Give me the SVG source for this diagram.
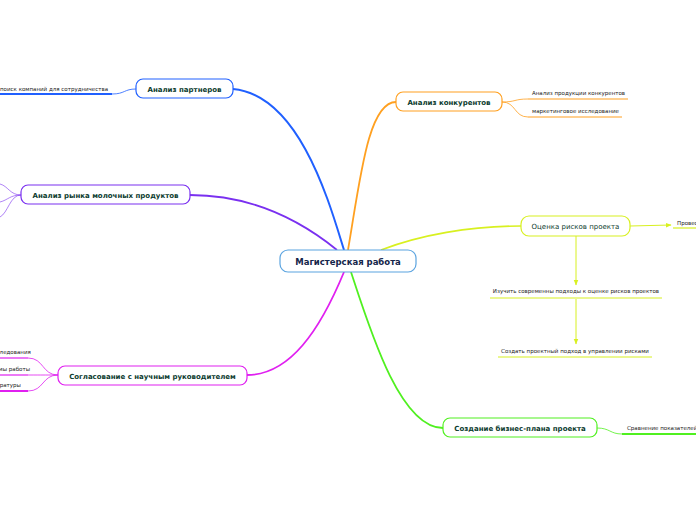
<svg xmlns="http://www.w3.org/2000/svg" width="696" height="520" viewBox="0 0 696 520">
<defs>
<marker id="arrY" viewBox="0 0 10 10" refX="9" refY="5" markerWidth="6" markerHeight="6" orient="auto"><path d="M0,1 L10,5 L0,9 z" fill="#d8f020"/></marker>
<style>
.b{font-family:"DejaVu Sans",Verdana,sans-serif;font-weight:bold;font-size:7px;fill:#0b3b2e;text-anchor:middle}
.c{font-family:"DejaVu Sans",Verdana,sans-serif;font-weight:bold;font-size:8.5px;fill:#14254a;text-anchor:middle}
.r{font-family:"DejaVu Sans",Verdana,sans-serif;font-size:7px;fill:#0b3b2e;text-anchor:middle}
.s{font-family:"DejaVu Sans",Verdana,sans-serif;font-size:5.5px;fill:#222}
.n{fill:#fff;stroke-width:1.2}
.l{fill:none}
</style>
</defs>
<rect width="696" height="520" fill="#fff"/>
<g id="connectors">
<path class="l" d="M344,250 C330,205 300,95 233,89" stroke="#2060ff" stroke-width="2"/>
<path class="l" d="M348,250 C360,180 368,102 396,102" stroke="#ffa020" stroke-width="1.8"/>
<path class="l" d="M337,250 C300,220 250,195 190,195" stroke="#7a30f0" stroke-width="1.8"/>
<path class="l" d="M381,250 C420,235 470,226 521,226" stroke="#d8f020" stroke-width="1.6"/>
<path class="l" d="M344,272 C320,330 290,375 247,375" stroke="#e020f0" stroke-width="1.8"/>
<path class="l" d="M351,272 C370,330 400,428 443,428" stroke="#50f020" stroke-width="1.8"/>
<path class="l" d="M136,89 C124,89 125,94 112,94" stroke="#2060ff" stroke-width="0.8"/>
<path class="l" d="M21,195 C10,195 8,186 0,184" stroke="#7a30f0" stroke-width="0.6"/>
<path class="l" d="M21,195 C10,195 8,200 0,202" stroke="#7a30f0" stroke-width="0.6"/>
<path class="l" d="M21,195 C10,195 8,213 0,217" stroke="#7a30f0" stroke-width="0.6"/>
<path class="l" d="M502,102 C516,102 514,99 528,99" stroke="#ffa020" stroke-width="0.8"/>
<path class="l" d="M502,102 C516,102 514,117 528,117" stroke="#ffa020" stroke-width="0.8"/>
<path class="l" d="M58,375 C42,375 44,358 28,358" stroke="#e020f0" stroke-width="0.8"/>
<path class="l" d="M58,375 C42,375 44,375 28,375" stroke="#e020f0" stroke-width="0.8"/>
<path class="l" d="M58,375 C42,375 44,391 28,391" stroke="#e020f0" stroke-width="0.8"/>
<path class="l" d="M597,428 C610,428 610,434 622,434" stroke="#50f020" stroke-width="0.8"/>
<path class="l" d="M630,226 L671,225" stroke="#d8f020" stroke-width="1" marker-end="url(#arrY)"/>
<path class="l" d="M576,236 L576,285" stroke="#d8f020" stroke-width="1" marker-end="url(#arrY)"/>
<path class="l" d="M576,299 L576,344" stroke="#d8f020" stroke-width="1" marker-end="url(#arrY)"/>
</g>
<g id="center"><rect class="n" x="280" y="250" width="136" height="22" rx="8" stroke="#5ba4e0"/><text class="c" x="348" y="265">Магистерская работа</text></g>
<g id="partners"><rect class="n" x="136" y="79" width="97" height="19" rx="7" stroke="#2060ff"/><text class="b" x="184.5" y="91.5">Анализ партнеров</text></g>
<g id="partners-1"><text class="s" x="0" y="91">поиск компаний для сотрудничества</text><line x1="0" y1="94" x2="112" y2="94" stroke="#2060ff" stroke-width="2"/></g>
<g id="market"><rect class="n" x="21" y="185" width="169" height="19" rx="7" stroke="#7a30f0"/><text class="b" x="105.5" y="197.5">Анализ рынка молочных продуктов</text></g>
<g id="competitors"><rect class="n" x="396" y="92" width="106" height="19" rx="7" stroke="#ffa020"/><text class="b" x="449" y="104.5">Анализ конкурентов</text></g>
<g id="competitors-1"><text class="s" x="532" y="95">Анализ продукции конкурентов</text><line x1="528" y1="99" x2="628" y2="99" stroke="#ffa020" stroke-width="1.2"/></g>
<g id="competitors-2"><text class="s" x="532" y="113">маркетинговое исследование</text><line x1="528" y1="117" x2="622" y2="117" stroke="#ffa020" stroke-width="1.2"/></g>
<g id="risks"><rect class="n" x="521" y="216" width="109" height="20" rx="8" stroke="#d8f020"/><text class="r" x="575.5" y="228.5">Оценка рисков проекта</text></g>
<g id="risks-right"><text class="s" x="677" y="225">Провести</text><line x1="673" y1="228" x2="696" y2="228" stroke="#d8f020" stroke-width="1.2"/></g>
<g id="risks-1"><text class="s" x="576" y="293" text-anchor="middle">Изучить современны подходы к оценке рисков проектов</text><line x1="490" y1="298" x2="662" y2="298" stroke="#d8f020" stroke-width="1.2"/></g>
<g id="risks-2"><text class="s" x="575" y="353" text-anchor="middle">Создать проектный подход в управлении рисками</text><line x1="498" y1="357" x2="652" y2="357" stroke="#d8f020" stroke-width="1.2"/></g>
<g id="plan"><rect class="n" x="443" y="418" width="154" height="19" rx="7" stroke="#50f020"/><text class="b" x="520" y="430.5">Создание бизнес-плана проекта</text></g>
<g id="plan-1"><text class="s" x="627" y="430">Сравнение показателей</text><line x1="622" y1="434" x2="696" y2="434" stroke="#50f020" stroke-width="2"/></g>
<g id="advisor"><rect class="n" x="58" y="366" width="189" height="19" rx="7" stroke="#e020f0"/><text class="b" x="152.5" y="378.5">Согласование с научным руководителем</text></g>
<g id="advisor-1"><text class="s" x="-10" y="354">исследования</text><line x1="0" y1="358" x2="28" y2="358" stroke="#e020f0" stroke-width="1.2"/></g>
<g id="advisor-2"><text class="s" x="-8" y="371">темы работы</text><line x1="0" y1="375" x2="28" y2="375" stroke="#e020f0" stroke-width="1.2"/></g>
<g id="advisor-3"><text class="s" x="-14" y="387">литературы</text><line x1="0" y1="391" x2="28" y2="391" stroke="#e020f0" stroke-width="2"/></g>
</svg>
